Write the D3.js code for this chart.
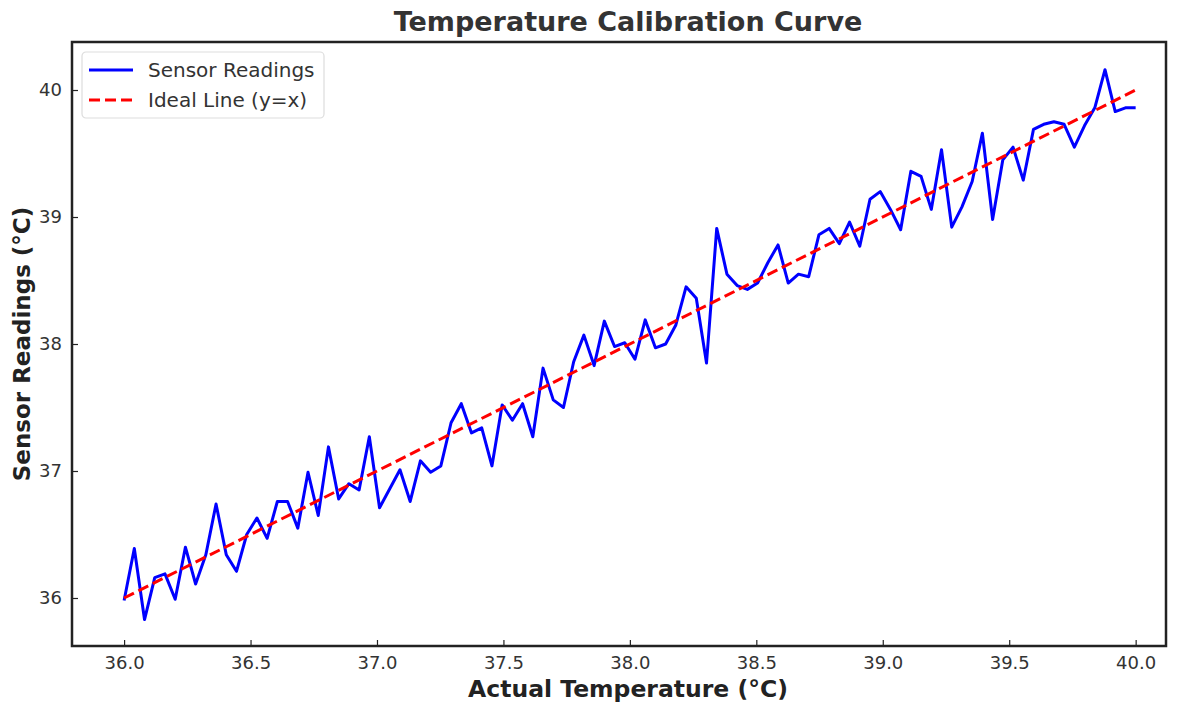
<!DOCTYPE html>
<html>
<head>
<meta charset="utf-8">
<script src="https://cdn.jsdelivr.net/npm/d3@7"></script>
<style>
    body { margin: 0; background: #fff; }
    text { font-family: "DejaVu Sans", sans-serif; }
</style>
</head>
<body>
<svg id="chart" width="1180" height="702"></svg>
<script>
// sensor readings, 100 samples between 36 and 40 °C
var actualStart = 36, actualEnd = 40, sampleCount = 100;
var readings = [
    35.98, 36.39, 35.83, 36.16, 36.19, 35.99, 36.40, 36.11, 36.34, 36.74,
    36.34, 36.21, 36.50, 36.63, 36.47, 36.76, 36.76, 36.55, 36.99, 36.65,
    37.19, 36.78, 36.90, 36.85, 37.27, 36.71, 36.86, 37.01, 36.76, 37.08,
    36.99, 37.04, 37.38, 37.53, 37.30, 37.34, 37.04, 37.52, 37.40, 37.53,
    37.27, 37.81, 37.56, 37.50, 37.86, 38.07, 37.83, 38.18, 37.98, 38.01,
    37.88, 38.19, 37.97, 38.00, 38.15, 38.45, 38.36, 37.85, 38.91, 38.55,
    38.46, 38.43, 38.48, 38.64, 38.78, 38.48, 38.55, 38.53, 38.86, 38.91,
    38.79, 38.96, 38.77, 39.14, 39.20, 39.06, 38.90, 39.36, 39.32, 39.06,
    39.53, 38.92, 39.08, 39.28, 39.66, 38.98, 39.45, 39.55, 39.29, 39.69,
    39.73, 39.75, 39.73, 39.55, 39.72, 39.86, 40.16, 39.83, 39.86, 39.86
];
var idealX = [36, 40];
var xTicks = [36.0, 36.5, 37.0, 37.5, 38.0, 38.5, 39.0, 39.5, 40.0];
var yTicks = [36, 37, 38, 39, 40];
var seriesNames = ["Sensor Readings", "Ideal Line (y=x)"];

drawChart();

function drawChart() {
    var actual = d3.range(sampleCount).map(function(i) {
        return actualStart + i * (actualEnd - actualStart) / (sampleCount - 1);
    });
    var lineData = actual.map(function(a, i) { return { x: a, y: readings[i] }; });

    var svg = d3.select("#chart");
    var left = 72, right = 1166, plotTop = 42, bottom = 646;

    var x = d3.scaleLinear().domain([35.794, 40.12]).range([left, right]);
    var y = d3.scaleLinear().domain([35.622, 40.378]).range([bottom, plotTop]);

    svg.append("text")
        .attr("x", 628).attr("y", 31)
        .attr("text-anchor", "middle")
        .attr("font-size", 27).attr("font-weight", "bold")
        .attr("fill", "#333")
        .text("Temperature Calibration Curve");

    var xAxis = d3.axisBottom(x).tickValues(xTicks).tickFormat(d3.format(".1f")).tickSizeInner(-6).tickSizeOuter(0).tickPadding(10);
    var yAxis = d3.axisLeft(y).tickValues(yTicks).tickFormat(d3.format("d")).tickSizeInner(-6).tickSizeOuter(0).tickPadding(10);

    var gx = svg.append("g").attr("transform", "translate(0," + bottom + ")").call(xAxis);
    var gy = svg.append("g").attr("transform", "translate(" + left + ",0)").call(yAxis);
    [gx, gy].forEach(function(g) {
        g.select(".domain").remove();
        g.selectAll(".tick line").attr("stroke", "#222").attr("stroke-width", 1.2);
        g.selectAll(".tick text").attr("font-size", 18).attr("fill", "#333")
            .attr("font-family", "DejaVu Sans, sans-serif");
    });

    svg.append("path")
        .datum(lineData)
        .attr("fill", "none")
        .attr("stroke", "#0000ff")
        .attr("stroke-width", 3)
        .attr("stroke-linejoin", "round")
        .attr("d", d3.line().x(function(d) { return x(d.x); }).y(function(d) { return y(d.y); }));

    svg.append("path")
        .datum(idealX)
        .attr("fill", "none")
        .attr("stroke", "#ff0000")
        .attr("stroke-width", 3)
        .attr("stroke-dasharray", "11,5")
        .attr("d", d3.line().x(function(d) { return x(d); }).y(function(d) { return y(d); }));

    // frame
    svg.append("rect")
        .attr("x", left).attr("y", plotTop)
        .attr("width", right - left).attr("height", bottom - plotTop)
        .attr("fill", "none").attr("stroke", "#222").attr("stroke-width", 2.5);

    svg.append("text")
        .attr("x", 628).attr("y", 697)
        .attr("text-anchor", "middle")
        .attr("font-size", 23.5).attr("font-weight", "bold")
        .attr("fill", "#222")
        .text("Actual Temperature (°C)");

    svg.append("text")
        .attr("transform", "translate(30," + ((plotTop + bottom) / 2) + ") rotate(-90)")
        .attr("text-anchor", "middle")
        .attr("font-size", 23).attr("font-weight", "bold")
        .attr("fill", "#222")
        .text("Sensor Readings (°C)");

    // legend
    var legend = svg.append("g").attr("transform", "translate(82,52)");
    legend.append("rect")
        .attr("width", 242).attr("height", 66).attr("rx", 4)
        .attr("fill", "#fff").attr("fill-opacity", 0.8)
        .attr("stroke", "#ddd").attr("stroke-width", 1.2);
    var styles = [{ color: "#0000ff", dash: null }, { color: "#ff0000", dash: "11,5" }];
    seriesNames.forEach(function(name, i) {
        var ly = 18 + i * 30;
        legend.append("line")
            .attr("x1", 7).attr("x2", 51).attr("y1", ly).attr("y2", ly)
            .attr("stroke", styles[i].color).attr("stroke-width", 3)
            .attr("stroke-dasharray", styles[i].dash);
        legend.append("text")
            .attr("x", 66).attr("y", ly + 7)
            .attr("font-size", 20).attr("fill", "#333")
            .text(name);
    });
}
</script>
</body>
</html>
